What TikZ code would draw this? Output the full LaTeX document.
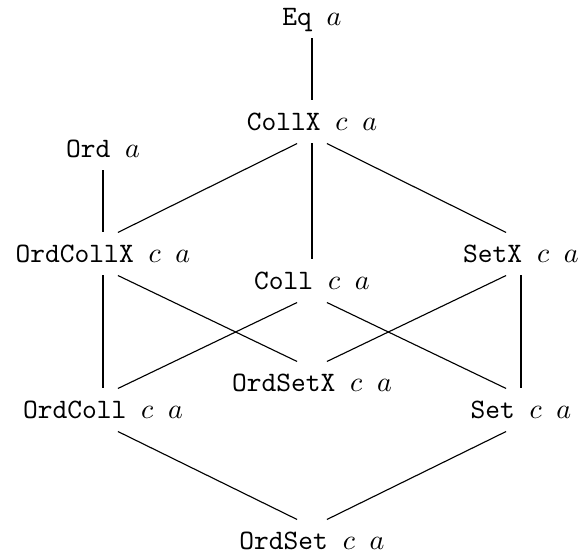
\documentclass[tikz,border=0pt]{standalone}
\usepackage{amsmath}
\usepackage{tikz}

\begin{document}
\begin{tikzpicture}[x=0.3558pt,y=-0.3558pt,
  cls/.style={font=\ttfamily,text height=6.1pt,text depth=0pt,inner xsep=2pt,inner ysep=4.4pt}]

\useasboundingbox (0,0) rectangle (581,557);

\node[cls] (eq) at (312,17) {Eq $a$};
\node[cls] (collx) at (312,122) {CollX $c$ $a$};
\node[cls] (ord) at (103,149) {Ord $a$};
\node[cls] (ordcollx) at (103,254) {OrdCollX $c$ $a$};
\node[cls] (setx) at (521,254) {SetX $c$ $a$};
\node[cls] (coll) at (312,281) {Coll $c$ $a$};
\node[cls] (ordsetx) at (312,383) {OrdSetX $c$ $a$};
\node[cls] (ordcoll) at (103,410) {OrdColl $c$ $a$};
\node[cls] (set) at (521,410) {Set $c$ $a$};
\node[cls] (ordset) at (312,541) {OrdSet $c$ $a$};

%bottom of #1 to top of #2, ends moved sideways by #3
\newcommand{\hasse}[3]{%
  \draw ([xshift=#3]#1.south) -- ([xshift={-(#3)}]#2.north);
}

\hasse{eq}{collx}{0pt}
\hasse{ord}{ordcollx}{0pt}
\hasse{collx}{ordcollx}{-5.3pt}
\hasse{collx}{coll}{0pt}
\hasse{collx}{setx}{5.3pt}
\hasse{ordcollx}{ordcoll}{0pt}
\hasse{ordcollx}{ordsetx}{5.3pt}
\hasse{setx}{ordsetx}{-5.3pt}
\hasse{setx}{set}{0pt}
\hasse{coll}{ordcoll}{-5.3pt}
\hasse{coll}{set}{5.3pt}
\hasse{ordcoll}{ordset}{5.3pt}
\hasse{set}{ordset}{-5.3pt}

\end{tikzpicture}
\end{document}
